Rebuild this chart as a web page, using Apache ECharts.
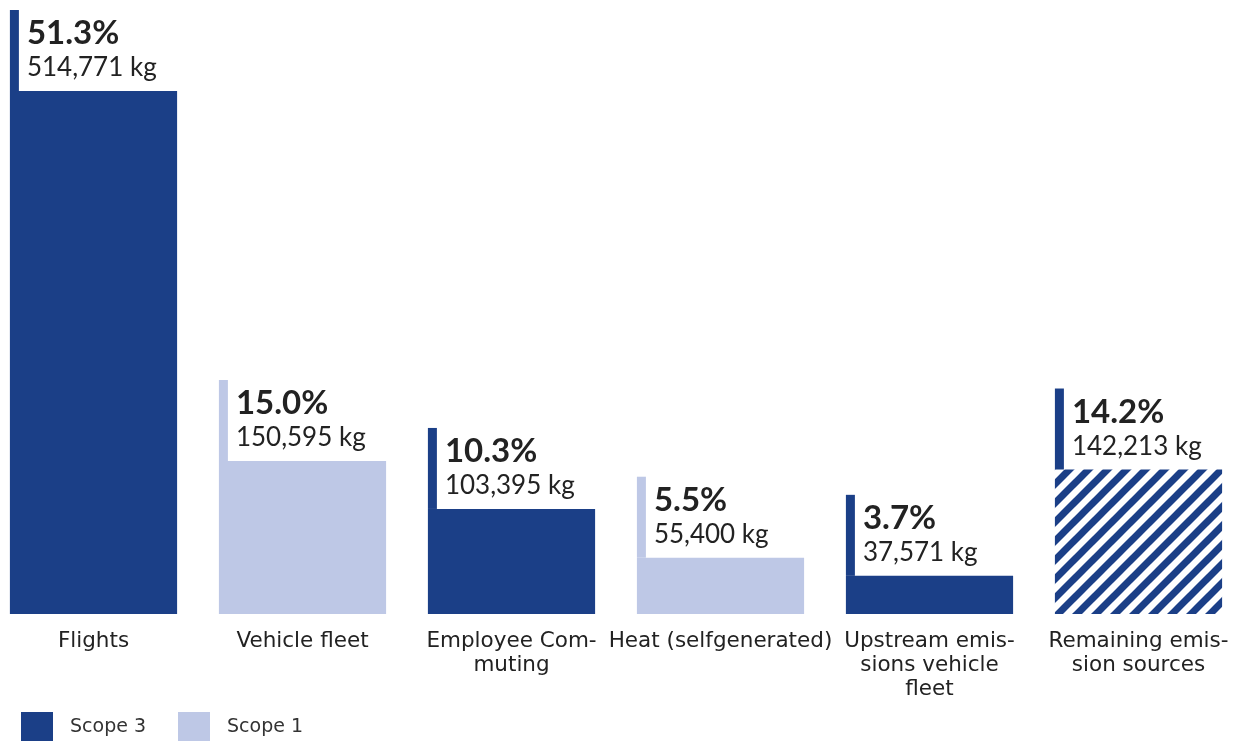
<!DOCTYPE html>
<html>
<head>
<meta charset="utf-8">
<script src="https://cdn.jsdelivr.net/npm/echarts@6/dist/echarts.min.js"></script>
<style>
  html, body { margin: 0; padding: 0; background: #fff; }
  #main { width: 1240px; height: 741px; }
</style>
</head>
<body>
<div id="main"></div>
<script>
var categories = [
  "Flights",
  "Vehicle fleet",
  "Employee Com-\nmuting",
  "Heat (selfgenerated)",
  "Upstream emis-\nsions vehicle\nfleet",
  "Remaining emis-\nsion sources"
];
var emissionsKg = [514771, 150595, 103395, 55400, 37571, 142213];
var shares = ["51.3%", "15.0%", "10.3%", "5.5%", "3.7%", "14.2%"];
// which group each bar belongs to
var groups = ["Scope 3", "Scope 1", "Scope 3", "Scope 1", "Scope 3", "Other"];

var DARK = "#1b3f87";
var LIGHT = "#bec8e6";

// stripe pattern for the "remaining" bar
function makeHatch() {
  var s = 19;
  var cv = document.createElement("canvas");
  cv.width = s; cv.height = s;
  var ctx = cv.getContext("2d");
  ctx.fillStyle = "#fff";
  ctx.fillRect(0, 0, s, s);
  ctx.strokeStyle = DARK;
  ctx.lineWidth = 7;
  [0, s, 2 * s].forEach(function (k) {
    // line x + y = k
    ctx.beginPath();
    ctx.moveTo(k - 2 * s, 2 * s);
    ctx.lineTo(k + 2 * s, -2 * s);
    ctx.stroke();
  });
  return cv;
}
var hatch = makeHatch();

function seriesData(name) {
  var out = [];
  emissionsKg.forEach(function (v, i) {
    if (groups[i] === name) out.push([i, v]);
  });
  return out;
}

function renderBar(params, api) {
  var idx = api.value(0);
  var val = api.value(1);
  var top = api.coord([idx, val]);
  var base = api.coord([idx, 0]);
  var step = api.coord([1, 0])[0] - api.coord([0, 0])[0];
  var w = step * 0.8;
  var x = top[0] - w / 2;
  var grp = groups[idx];
  var fill = grp === "Scope 1" ? LIGHT : grp === "Scope 3" ? DARK : { image: hatch, repeat: "repeat" };
  var stripeColor = grp === "Scope 1" ? LIGHT : DARK;
  return {
    type: "group",
    children: [
      {
        type: "rect",
        shape: { x: x, y: top[1], width: w, height: base[1] - top[1] },
        style: { fill: fill }
      },
      {
        type: "rect",
        shape: { x: x, y: top[1] - 81, width: 9, height: 81 },
        style: { fill: stripeColor }
      },
      {
        type: "text",
        x: x + 17,
        y: top[1] - 41,
        style: {
          text: shares[idx],
          fill: "#222",
          font: "bold 33px Lato",
          verticalAlign: "bottom"
        }
      },
      {
        type: "text",
        x: x + 17,
        y: top[1] - 10,
        style: {
          text: emissionsKg[idx].toLocaleString("en-US") + " kg",
          fill: "#222",
          font: "26px Lato",
          verticalAlign: "bottom"
        }
      }
    ]
  };
}

var chart = echarts.init(document.getElementById("main"));
chart.setOption({
  animation: false,
  grid: { left: 93.5, right: 101.5, top: 91, bottom: 127 },
  legend: {
    data: ["Scope 3", "Scope 1"],
    left: 21,
    top: 712,
    padding: 0,
    icon: "rect",
    itemWidth: 32,
    itemHeight: 30,
    itemGap: 32,
    textStyle: { fontFamily: "DejaVu Sans", fontSize: 19, color: "#333", padding: [0, 0, 0, 12] }
  },
  xAxis: {
    type: "category",
    data: categories,
    boundaryGap: false,
    axisLine: { show: false },
    axisTick: { show: false },
    axisLabel: {
      interval: 0,
      margin: 15,
      fontFamily: "DejaVu Sans",
      fontSize: 21.5,
      lineHeight: 24,
      color: "#222"
    }
  },
  yAxis: {
    type: "value",
    min: 0,
    max: 514771,
    show: false,
    splitLine: { show: false }
  },
  series: ["Scope 3", "Scope 1", "Other"].map(function (name) {
    return {
      name: name,
      type: "custom",
      renderItem: renderBar,
      itemStyle: { color: name === "Scope 1" ? LIGHT : DARK },
      encode: { x: 0, y: 1 },
      data: seriesData(name)
    };
  })
});
</script>
</body>
</html>
